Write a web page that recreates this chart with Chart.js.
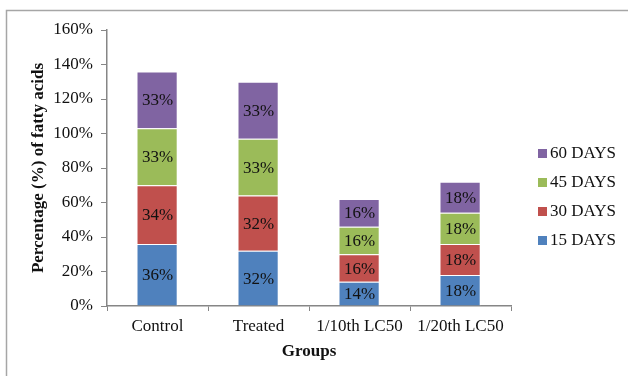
<!DOCTYPE html>
<html>
<head>
<meta charset="utf-8">
<script src="https://cdn.jsdelivr.net/npm/chart.js@4/dist/chart.umd.min.js"></script>
<style>
  html, body { margin: 0; padding: 0; background: #fff; }
  #wrap { width: 628px; height: 376px; position: relative; }
</style>
</head>
<body>
<div id="wrap"><canvas id="c" width="628" height="376"></canvas></div>
<script>
// Fatty acid percentages by group and exposure period
const groups = ['Control', 'Treated', '1/10th LC50', '1/20th LC50'];
const days15 = [36, 32, 14, 18];
const days30 = [34, 32, 16, 18];
const days45 = [33, 33, 16, 18];
const days60 = [33, 33, 16, 18];
const seriesNames = ['15 DAYS', '30 DAYS', '45 DAYS', '60 DAYS'];
const yTicks = [0, 20, 40, 60, 80, 100, 120, 140, 160];

const colors = ['#4F81BD', '#C0504D', '#9BBB59', '#8064A2'];
const serif = '"Liberation Serif", "Times New Roman", serif';
const axisGray = '#868686';
const fontSize = 17;

const seriesValues = [days15, days30, days45, days60];
const datasets = seriesValues.map((vals, i) => ({
  label: seriesNames[i],
  data: vals,
  backgroundColor: colors[i],
  borderColor: 'rgba(255,255,255,0.6)',
  borderWidth: { top: 1, bottom: 0, left: 0, right: 1 },
  borderSkipped: false,
  barPercentage: 0.8,
  categoryPercentage: 0.5
}));

// Percentage labels inside each segment
const segmentLabels = {
  id: 'segmentLabels',
  afterDatasetsDraw(chart) {
    const ctx = chart.ctx;
    ctx.save();
    ctx.font = fontSize + 'px ' + serif;
    ctx.fillStyle = '#111';
    ctx.textAlign = 'center';
    ctx.textBaseline = 'middle';
    chart.data.datasets.forEach((ds, di) => {
      chart.getDatasetMeta(di).data.forEach((bar, i) => {
        const mid = (bar.y + bar.base) / 2;
        ctx.fillText(ds.data[i] + '%', bar.x, mid + 1);
      });
    });
    ctx.restore();
  }
};

// Legend on the right, last series on top
const sideLegend = {
  id: 'sideLegend',
  afterDraw(chart) {
    const ctx = chart.ctx;
    ctx.save();
    ctx.font = fontSize + 'px ' + serif;
    ctx.textBaseline = 'middle';
    ctx.textAlign = 'left';
    const n = chart.data.datasets.length;
    for (let k = 0; k < n; k++) {
      const di = n - 1 - k;
      const ds = chart.data.datasets[di];
      const y = 153 + k * 29;
      ctx.fillStyle = ds.backgroundColor;
      ctx.fillRect(538, y - 4, 9, 9);
      ctx.fillStyle = '#111';
      ctx.fillText(ds.label, 550, y + 1);
    }
    ctx.restore();
  }
};

// Outer frame around the figure
const frame = {
  id: 'frame',
  beforeDraw(chart) {
    const ctx = chart.ctx;
    ctx.save();
    ctx.fillStyle = '#fff';
    ctx.fillRect(0, 0, chart.width, chart.height);
    ctx.strokeStyle = '#a6a6a6';
    ctx.lineWidth = 1.5;
    ctx.beginPath();
    ctx.moveTo(6.5, 380);
    ctx.lineTo(6.5, 10.5);
    ctx.lineTo(630, 10.5);
    ctx.stroke();
    ctx.restore();
  }
};

new Chart(document.getElementById('c'), {
  type: 'bar',
  data: { labels: groups, datasets },
  plugins: [frame, segmentLabels, sideLegend],
  options: {
    responsive: false,
    animation: false,
    layout: { padding: { top: 30, right: 117, left: 0, bottom: 0 } },
    plugins: { legend: { display: false }, tooltip: { enabled: false } },
    scales: {
      x: {
        stacked: true,
        afterFit(s) { s.height = 70; },
        grid: { drawOnChartArea: false, drawTicks: true, tickLength: 5, color: axisGray, offset: true },
        border: { color: axisGray, width: 1.5 },
        ticks: { color: '#111', font: { family: serif, size: fontSize }, padding: 5 },
        title: {
          display: true, text: 'Groups', color: '#111',
          font: { family: serif, size: fontSize, weight: 'bold' },
          padding: { top: 0, bottom: 14 }
        }
      },
      y: {
        stacked: true,
        min: 0, max: 160,
        afterFit(s) { s.width = 107; },
        afterBuildTicks(s) { s.ticks = yTicks.map(v => ({ value: v })); },
        grid: { drawOnChartArea: false, drawTicks: true, tickLength: 6, color: axisGray },
        border: { color: axisGray, width: 1.5 },
        ticks: {
          color: '#111', font: { family: serif, size: fontSize }, padding: 8,
          callback: v => v + '%'
        },
        title: {
          display: true, text: 'Percentage (%) of fatty acids', color: '#111',
          font: { family: serif, size: fontSize, weight: 'bold' },
          padding: { top: 28, bottom: 0 }
        }
      }
    }
  }
});
</script>
</body>
</html>
